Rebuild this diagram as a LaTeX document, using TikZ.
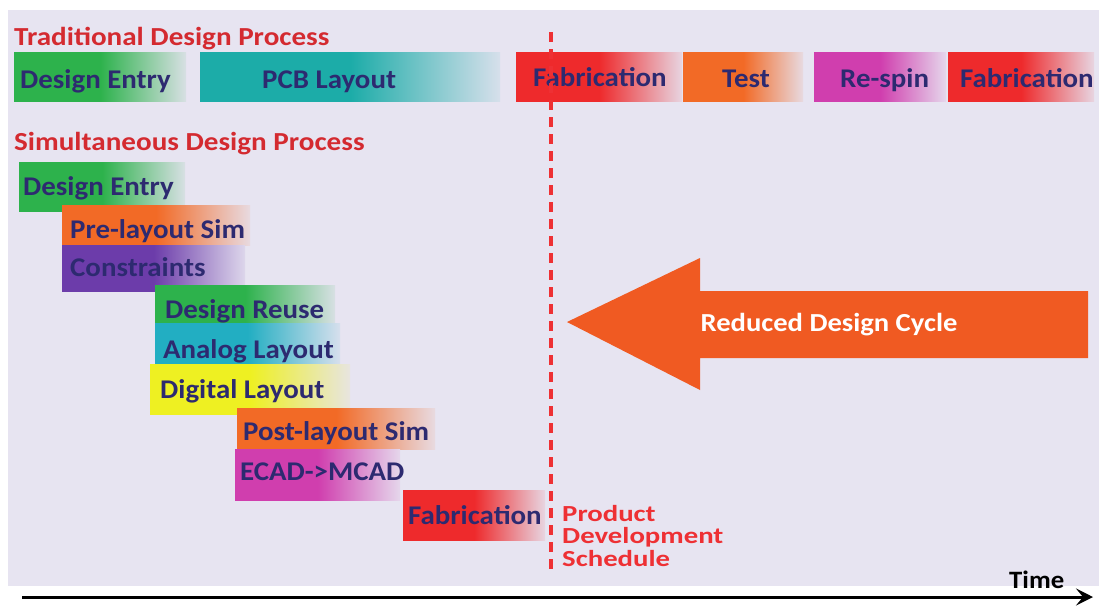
\documentclass[tikz,border=0pt]{standalone}
\usepackage{fontspec}
\setmainfont{Carlito}
\newfontfamily\headfont{Carlito}[FakeStretch=1.12]
\newfontfamily\labelfont{Carlito}[FakeStretch=1.07]
\newfontfamily\wideserif{Carlito}[FakeStretch=1.1]
\newfontfamily\schedfont{Carlito}[FakeStretch=1.25]
\usetikzlibrary{arrows.meta}

\definecolor{bgc}{HTML}{E7E4F1}
\definecolor{titlered}{HTML}{D42A30}
\definecolor{navy}{HTML}{2D2A70}
\definecolor{cgreen}{HTML}{2DB24C}
\definecolor{cteal}{HTML}{1CACA8}
\definecolor{ccyan}{HTML}{22AEC2}
\definecolor{cred}{HTML}{EE2A2C}
\definecolor{corange}{HTML}{F26A26}
\definecolor{cmagenta}{HTML}{D03EAE}
\definecolor{cpurple}{HTML}{6C3CAA}
\definecolor{cyellow}{HTML}{EEF022}
\definecolor{arroworange}{HTML}{F05A22}
\definecolor{dashred}{HTML}{EE3034}

\colorlet{barA}{black}
\colorlet{barB}{white}
% solid colour over the left part of a bar, fading out to the right
\pgfdeclarehorizontalshading[barA,barB]{fadebar}{100bp}{%
  color(0bp)=(barA); color(25bp)=(barA); color(50bp)=(barA);
  color(75bp)=(barB); color(100bp)=(barB)}

\tikzset{
  bar/.style={draw=none, inner sep=0pt, anchor=north west,
    /utils/exec={\colorlet{barA}{#1}\colorlet{barB}{#1!8!bgc}},
    shade, shading=fadebar},
  lbl/.style={font=\labelfont\bfseries\fontsize{27}{30}\selectfont, text=navy,
    inner sep=0pt, anchor=base west},
  heading/.style={font=\headfont\bfseries\fontsize{26}{30}\selectfont, text=titlered,
    inner sep=0pt, anchor=base west},
}

\begin{document}
\begin{tikzpicture}[x=1pt, y=-1pt]
  % page and panel
  \fill[white] (0,0) rectangle (1099,611);
  \fill[bgc] (8,10) rectangle (1099,586);
  \useasboundingbox (0,0) rectangle (1099,611);

  % ---- traditional flow ----
  \node[heading] (trad) at (14,45) {Traditional Design Process};

  \node[bar=cgreen,  minimum width=172pt, minimum height=49pt] (t1) at (14,52) {};
  \node[bar=cteal,   minimum width=300pt, minimum height=49pt] (t2) at (200,52) {};
  \node[bar=cred,    minimum width=166pt, minimum height=49pt] (t3) at (516,52) {};
  \node[bar=corange, minimum width=120pt, minimum height=49pt] (t4) at (683,52) {};
  \node[bar=cmagenta,minimum width=132pt, minimum height=49pt] (t5) at (814,52) {};
  \node[bar=cred,    minimum width=146pt, minimum height=49pt] (t6) at (948,52) {};

  \node[lbl] (t1l) at (20,88)  {Design Entry};
  \node[lbl] (t2l) at (262,88) {PCB Layout};
  \node[lbl] (t3l) at (533,86) {Fabrication};
  \node[lbl] (t4l) at (722,87) {Test};
  \node[lbl] (t5l) at (840,87) {Re-spin};
  \node[lbl] (t6l) at (960,87) {Fabrication};

  % ---- simultaneous flow ----
  \node[heading] (simu) at (14,150) {Simultaneous Design Process};

  \node[bar=cgreen,   minimum width=166pt, minimum height=49pt] (s1) at (19,162) {};
  \node[bar=corange,  minimum width=188pt, minimum height=40pt] (s2) at (62,205) {};
  \node[bar=cpurple,  minimum width=183pt, minimum height=46pt] (s3) at (62,245) {};
  \node[bar=cgreen,   minimum width=180pt, minimum height=38pt] (s4) at (155,285) {};
  \node[bar=ccyan,    minimum width=185pt, minimum height=41pt] (s5) at (155,323) {};
  \node[bar=cyellow,  minimum width=200pt, minimum height=50pt] (s6) at (150,364) {};
  \node[bar=corange,  minimum width=198pt, minimum height=41pt] (s7) at (237,408) {};
  \node[bar=cmagenta, minimum width=165pt, minimum height=51pt] (s8) at (235,449) {};
  \node[bar=cred,     minimum width=142pt, minimum height=50pt] (s9) at (403,490) {};

  \node[lbl] (s1l) at (23,195)  {Design Entry};
  \node[lbl] (s2l) at (70,238)  {Pre-layout Sim};
  \node[lbl] (s3l) at (70,276)  {Constraints};
  \node[lbl] (s4l) at (165,318) {Design Reuse};
  \node[lbl] (s5l) at (163,358) {Analog Layout};
  \node[lbl] (s6l) at (160,398) {Digital Layout};
  \node[lbl] (s7l) at (243,440) {Post-layout Sim};
  \node[lbl] (s8l) at (240,480) {ECAD->MCAD};
  \node[lbl] (s9l) at (408,524) {Fabrication};

  % ---- schedule marker ----
  \coordinate (schedtop) at (551,32);
  \coordinate (schedbot) at (551,572);
  \draw[dashred, line width=3.5pt, dash pattern=on 10pt off 7pt]
    (schedtop) -- (schedbot);
  \node[font=\schedfont\bfseries\fontsize{23}{22.5}\selectfont, text=dashred,
        align=left, inner sep=0pt, anchor=base west] (sched) at (562,566)
    {Product\\Development\\Schedule};

  % ---- reduced design cycle arrow ----
  \fill[arroworange] (567,322) -- (700,258) -- (700,291) -- (1088,291)
    -- (1088,358) -- (700,358) -- (700,390) -- cycle;
  \node[font=\wideserif\bfseries\fontsize{26}{30}\selectfont, text=white,
        inner sep=0pt] (cycle) at (829,325) {Reduced Design Cycle};

  % ---- time axis ----
  \coordinate (t0) at (22,597);
  \coordinate (tend) at (1093,597);
  \draw[line width=3pt, -{Stealth[length=17pt, width=17pt, inset=7pt]}]
    (t0) -- (tend);
  \node[font=\labelfont\bfseries\fontsize{25}{30}\selectfont, inner sep=0pt,
        anchor=base west] (time) at (1009,588) {Time};
\end{tikzpicture}
\end{document}
